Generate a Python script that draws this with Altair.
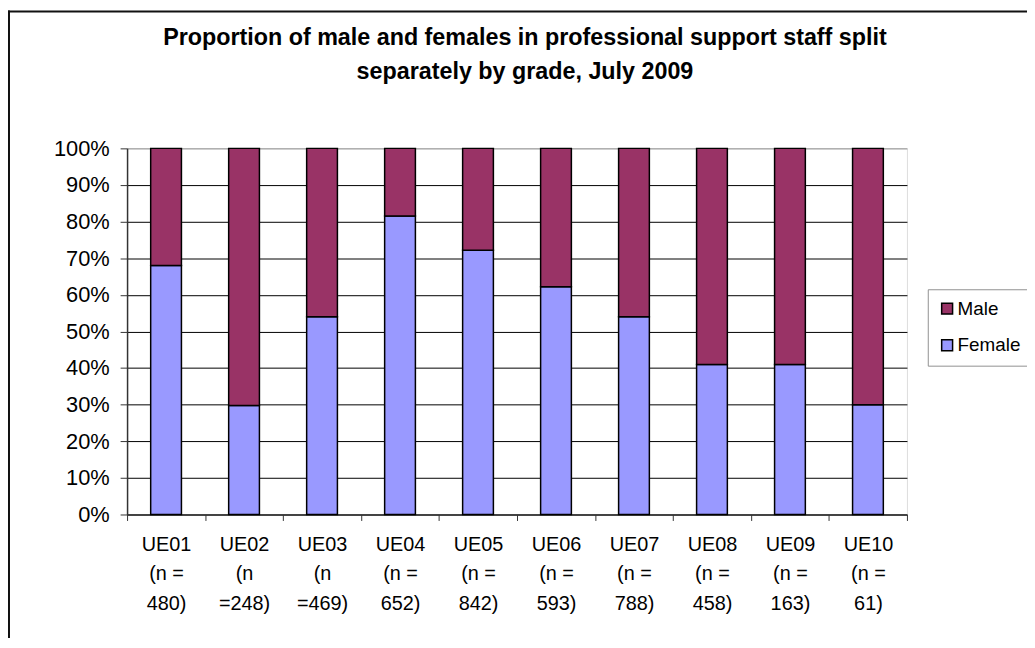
import altair as alt
import pandas as pd

grades = ["UE01", "UE02", "UE03", "UE04", "UE05", "UE06", "UE07", "UE08", "UE09", "UE10"]
n_text = ["(n =|480)", "(n|=248)", "(n|=469)", "(n =|652)", "(n =|842)",
          "(n =|593)", "(n =|788)", "(n =|458)", "(n =|163)", "(n =|61)"]
female = [68.0, 29.8, 54.0, 81.5, 72.2, 62.2, 54.0, 41.0, 41.0, 30.0]
male = [32.0, 70.2, 46.0, 18.5, 27.8, 37.8, 46.0, 59.0, 59.0, 70.0]
series = ["Male", "Female"]
colors = ["#993366", "#9999FF"]
title_lines = ["Proportion of male and females in professional support staff split",
               "separately by grade, July 2009"]

cats = [g + "|" + n for g, n in zip(grades, n_text)]
rows = []
for c, f, m in zip(cats, female, male):
    rows.append({"cat": c, "sex": "Female", "val": f, "ord": 0})
    rows.append({"cat": c, "sex": "Male", "val": m, "ord": 1})
df = pd.DataFrame(rows)

FONT = "Liberation Sans"
PW, PH = 786, 369

bars = alt.Chart(df).mark_bar(size=31, stroke="black", strokeWidth=1.5).encode(
    x=alt.X("cat:N", sort=cats, title=None,
            scale=alt.Scale(paddingInner=0, paddingOuter=0),
            axis=alt.Axis(labelExpr="split(datum.label, '|')", labelAngle=0,
                          labelFontSize=20, labelFont=FONT, labelColor="black",
                          labelLineHeight=30, labelPadding=14,
                          tickBand="extent", tickSize=6, tickColor="#333333",
                          domainColor="#333333", domainWidth=1.5, grid=False)),
    y=alt.Y("val:Q", stack="normalize", title=None,
            scale=alt.Scale(domain=[0, 1]),
            axis=alt.Axis(format=".0%", values=[i / 10 for i in range(11)],
                          labelFontSize=22, labelFont=FONT, labelColor="black",
                          labelPadding=11, tickSize=7, tickColor="#333333",
                          domainColor="#333333", domainWidth=1.5,
                          grid=True, gridWidth=1,
                          gridColor={"condition": {"test": "datum.value >= 1", "value": "#909090"},
                                     "value": "black"})),
    color=alt.Color("sex:N", scale=alt.Scale(domain=series, range=colors),
                    legend=alt.Legend(title=None, orient="none", legendX=807, legendY=142,
                                      symbolType="square", symbolSize=121,
                                      symbolStrokeColor="black", symbolStrokeWidth=1.5,
                                      labelFontSize=19, labelFont=FONT, labelColor="black",
                                      labelOffset=1, rowPadding=17, padding=10,
                                      strokeColor="#909090", fillColor="white")),
    order=alt.Order("ord:Q", sort="ascending"),
)

title_df = pd.DataFrame({"line": title_lines, "i": [0, 1]})
title = alt.Chart(title_df).mark_text(font=FONT, fontSize=23.5, fontWeight="bold",
                                      color="black", baseline="middle", align="center").encode(
    text="line:N",
    x=alt.value(401),
    y=alt.Y("i:Q", scale=alt.Scale(domain=[0, 1], range=[-111, -77]), axis=None),
)

border_top = alt.Chart(alt.Data(values=[{}])).mark_rule(color="#111111", strokeWidth=2).encode(
    x=alt.value(-120), x2=alt.value(1000), y=alt.value(-138))
border_left = alt.Chart(alt.Data(values=[{}])).mark_rule(color="#111111", strokeWidth=2).encode(
    x=alt.value(-119), y=alt.value(-139), y2=alt.value(600))

chart = alt.layer(bars, title, border_top, border_left).resolve_scale(y="independent").properties(
    width=PW, height=PH,
    padding={"left": 120, "top": 139, "right": 121, "bottom": 122},
    autosize=alt.AutoSizeParams(type="none"),
).configure_view(stroke="#909090", strokeWidth=1.5).configure(background="white")

chart.save("out.html", embed_options={"renderer": "svg", "actions": False})
